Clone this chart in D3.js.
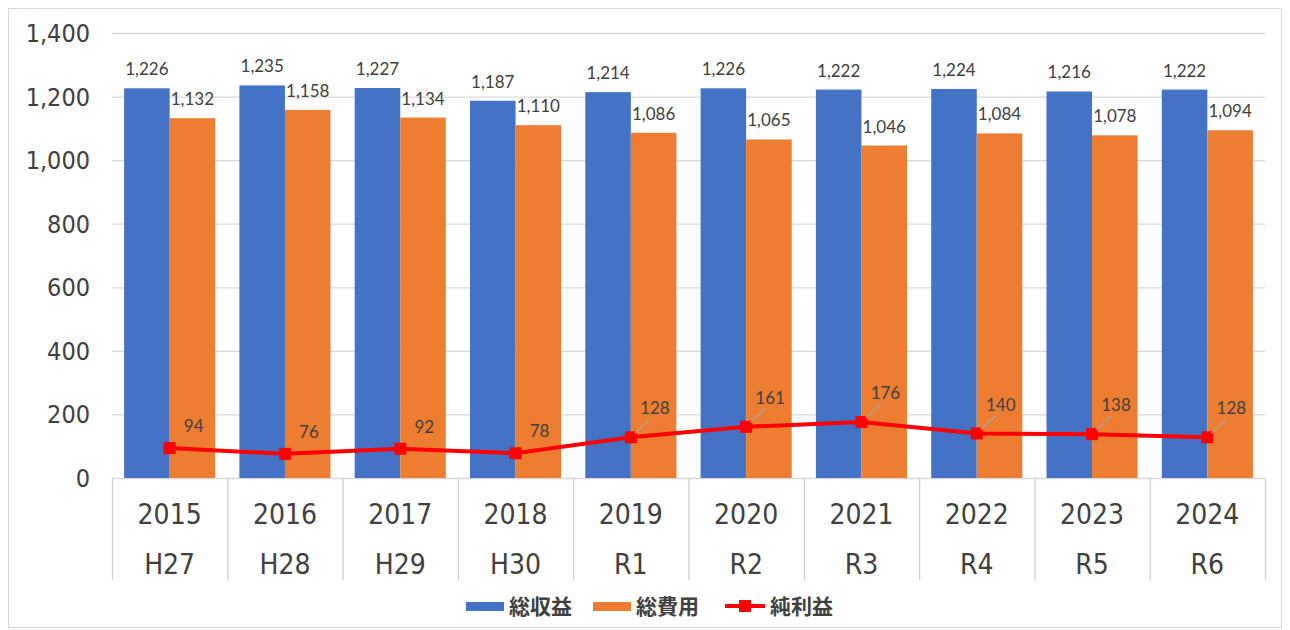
<!DOCTYPE html>
<html>
<head>
<meta charset="utf-8">
<script src="https://d3js.org/d3.v7.min.js"></script>
<style>
  body { margin:0; background:#fff; }
  .tick-y { font-family:"DejaVu Sans",sans-serif; font-stretch:condensed; font-size:25px; fill:#404040; }
  .cat { font-family:"DejaVu Sans",sans-serif; font-stretch:condensed; font-size:28px; fill:#404040; }
  .dlab { font-family:Lato,"Open Sans",sans-serif; font-size:17px; fill:#404040; }
  .leg { font-family:"Noto Sans CJK JP",sans-serif; font-size:21px; font-weight:bold; fill:#404040; }
</style>
</head>
<body>
<svg id="chart" width="1290" height="630"></svg>
<script>
// data
var years = ["2015","2016","2017","2018","2019","2020","2021","2022","2023","2024"];
var eras = ["H27","H28","H29","H30","R1","R2","R3","R4","R5","R6"];
var revenue = [1226,1235,1227,1187,1214,1226,1222,1224,1216,1222];   // 総収益
var expense = [1132,1158,1134,1110,1086,1065,1046,1084,1078,1094];   // 総費用
var profit  = [94,76,92,78,128,161,176,140,138,128];                 // 純利益
var yTicks = [0,200,400,600,800,1000,1200,1400];
var seriesNames = ["総収益","総費用","純利益"];
var colors = ["#4472C4","#ED7D31","#FF0000"];

var svg = d3.select("#chart");

// outer frame
svg.append("rect").attr("x",8.5).attr("y",8.5).attr("width",1273).attr("height",619)
  .attr("fill","none").attr("stroke","#d9d9d9");

var plotL = 112, plotR = 1265, plotT = 33, plotB = 478;

var x = d3.scaleBand().domain(years).range([plotL,plotR]);
var y = d3.scaleLinear().domain([0,1400]).range([plotB,plotT]);
var bw = x.bandwidth();
var x1 = d3.scaleBand().domain([0,1]).range([bw*0.105, bw*0.895]);

// gridlines
svg.append("g").selectAll("line").data(yTicks).enter().append("line")
  .attr("x1",plotL).attr("x2",plotR)
  .attr("y1",function(d){return y(d)+0.5;}).attr("y2",function(d){return y(d)+0.5;})
  .attr("stroke","#d9d9d9").attr("stroke-width",1.3);

// y labels
svg.append("g").selectAll("text").data(yTicks).enter().append("text")
  .attr("class","tick-y")
  .attr("x",90).attr("y",function(d){return y(d);})
  .attr("dy","0.36em").attr("text-anchor","end")
  .text(function(d){return d3.format(",")(d);});

// bars
var bars = svg.append("g");
[revenue,expense].forEach(function(vals,si){
  bars.selectAll(".b"+si).data(vals).enter().append("rect")
    .attr("x",function(d,i){return x(years[i])+x1(si);})
    .attr("width",x1.bandwidth())
    .attr("y",function(d){return y(d);})
    .attr("height",function(d){return y(0)-y(d);})
    .attr("fill",colors[si]);
  bars.selectAll(".l"+si).data(vals).enter().append("text")
    .attr("class","dlab")
    .attr("x",function(d,i){return x(years[i])+x1(si)+x1.bandwidth()/2;})
    .attr("y",function(d){return y(d)-13;})
    .attr("text-anchor","middle")
    .text(function(d){return d3.format(",")(d);});
});

// category axis boxes
var cax = svg.append("g");
cax.append("line").attr("x1",plotL).attr("x2",plotR).attr("y1",plotB+0.5).attr("y2",plotB+0.5)
  .attr("stroke","#d9d9d9");
cax.selectAll("line.div").data(years.concat(["end"])).enter().append("line")
  .attr("class","div")
  .attr("x1",function(d,i){return plotL+i*bw+0.5;})
  .attr("x2",function(d,i){return plotL+i*bw+0.5;})
  .attr("y1",plotB).attr("y2",580)
  .attr("stroke","#d0d0d0").attr("stroke-width",1.3);
cax.selectAll("text.yr").data(years).enter().append("text")
  .attr("class","cat").attr("text-anchor","middle")
  .attr("x",function(d){return x(d)+bw/2;}).attr("y",524)
  .text(function(d){return d;});
cax.selectAll("text.era").data(eras).enter().append("text")
  .attr("class","cat").attr("text-anchor","middle")
  .attr("x",function(d,i){return x(years[i])+bw/2;}).attr("y",574)
  .text(function(d){return d;});

// profit line
var cx = function(i){return x(years[i])+bw/2;};
var line = d3.line().x(function(d,i){return cx(i);}).y(function(d){return y(d);});
svg.append("path").datum(profit).attr("d",line)
  .attr("fill","none").attr("stroke",colors[2]).attr("stroke-width",4);
svg.append("g").selectAll("rect").data(profit).enter().append("rect")
  .attr("x",function(d,i){return cx(i)-6;}).attr("y",function(d){return y(d)-6;})
  .attr("width",12).attr("height",12).attr("fill",colors[2]);
// leader lines (only where the label was pulled further away) + labels
var pl = svg.append("g");
pl.selectAll("line").data(profit).enter().append("line")
  .attr("x1",function(d,i){return cx(i)+4;})
  .attr("y1",function(d){return y(d)-4;})
  .attr("x2",function(d,i){return cx(i)+19;})
  .attr("y2",function(d){return y(d)-18;})
  .attr("stroke","#a6a6a6").attr("stroke-width",1.2)
  .style("display",function(d){return d>=100?null:"none";});
pl.selectAll("text").data(profit).enter().append("text")
  .attr("class","dlab").attr("text-anchor","middle")
  .attr("x",function(d,i){return cx(i)+24;})
  .attr("y",function(d){return y(d)-(d>=100?23:16);})
  .text(function(d){return d;});

// legend
var leg = svg.append("g");
var legX = [466,593,725];
seriesNames.forEach(function(n,i){
  if(i<2){
    leg.append("rect").attr("x",legX[i]).attr("y",602).attr("width",38).attr("height",9).attr("fill",colors[i]);
  } else {
    leg.append("line").attr("x1",legX[i]).attr("x2",legX[i]+40).attr("y1",606).attr("y2",606)
      .attr("stroke",colors[i]).attr("stroke-width",4);
    leg.append("rect").attr("x",legX[i]+14).attr("y",600).attr("width",12).attr("height",12).attr("fill",colors[i]);
  }
  leg.append("text").attr("class","leg").attr("x",legX[i]+(i<2?43:45)).attr("y",614).text(n);
});
</script>
</body>
</html>
